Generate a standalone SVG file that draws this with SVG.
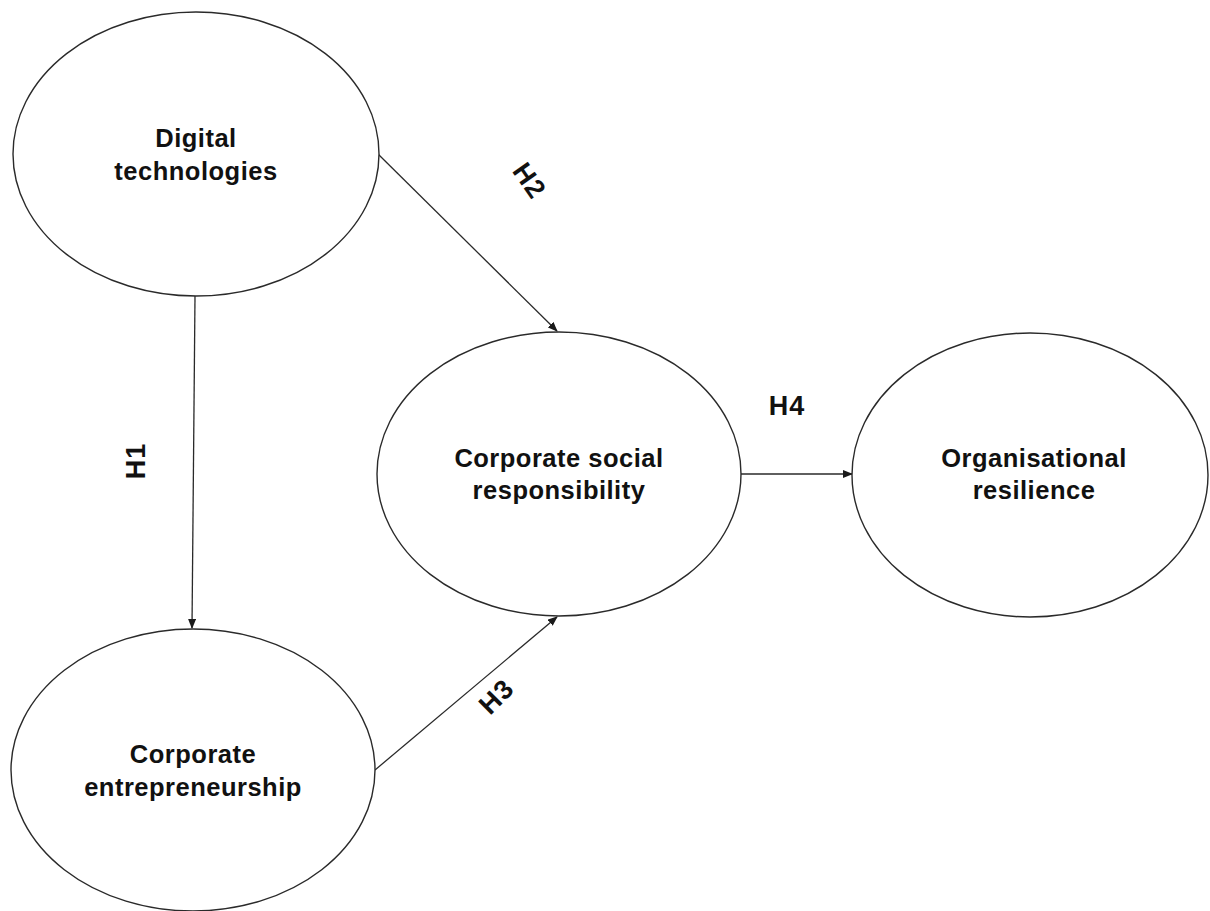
<svg xmlns="http://www.w3.org/2000/svg" width="1210" height="911" viewBox="0 0 1210 911">
  <style>
    .node ellipse { fill: #ffffff; stroke: #2a2a2a; stroke-width: 1.4; }
    .label { font-family: "Liberation Sans", Arial, sans-serif; font-weight: bold; font-size: 25.5px; letter-spacing: 0.5px; fill: #111111; text-anchor: middle; }
    .hyp { font-family: "Liberation Sans", Arial, sans-serif; font-weight: bold; font-size: 27px; letter-spacing: 1px; fill: #111111; text-anchor: middle; }
    .edge { stroke: #2a2a2a; stroke-width: 1.3; fill: none; marker-end: url(#arrow); }
  </style>
  <defs>
    <marker id="arrow" markerWidth="10" markerHeight="8" refX="9" refY="4" orient="auto" markerUnits="userSpaceOnUse">
      <path d="M0,0 L10,4 L0,8 z" fill="#1a1a1a"/>
    </marker>
  </defs>
  <rect width="1210" height="911" fill="#ffffff"/>

  <g id="connectors">
    <line class="edge" x1="195" y1="296" x2="192" y2="628"/>
    <line class="edge" x1="377" y1="153" x2="557" y2="331"/>
    <line class="edge" x1="375" y1="770" x2="557" y2="617"/>
    <line class="edge" x1="741" y1="474" x2="852" y2="474"/>
  </g>

  <g id="digital-technologies" class="node">
    <ellipse cx="196" cy="154" rx="183" ry="142"/>
    <text class="label" x="196" y="147">Digital</text>
    <text class="label" x="196" y="180">technologies</text>
  </g>

  <g id="corporate-entrepreneurship" class="node">
    <ellipse cx="193" cy="770" rx="182" ry="141"/>
    <text class="label" x="193" y="763">Corporate</text>
    <text class="label" x="193" y="796">entrepreneurship</text>
  </g>

  <g id="corporate-social-responsibility" class="node">
    <ellipse cx="559" cy="474" rx="182" ry="142"/>
    <text class="label" x="559" y="467">Corporate social</text>
    <text class="label" x="559" y="499">responsibility</text>
  </g>

  <g id="organisational-resilience" class="node">
    <ellipse cx="1030" cy="475" rx="178" ry="142"/>
    <text class="label" x="1034" y="467">Organisational</text>
    <text class="label" x="1034" y="499">resilience</text>
  </g>

  <g id="hypotheses">
    <text class="hyp" transform="translate(145,461) rotate(-90)">H1</text>
    <text class="hyp" transform="translate(522,186) rotate(55)">H2</text>
    <text class="hyp" transform="translate(503,703) rotate(-45)">H3</text>
    <text class="hyp" x="787" y="415">H4</text>
  </g>
</svg>
